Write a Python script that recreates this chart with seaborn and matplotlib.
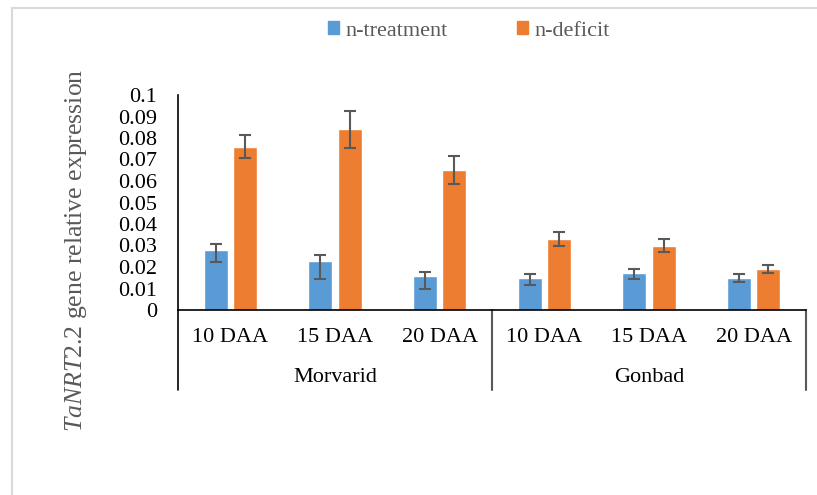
import matplotlib
matplotlib.use("Agg")
import matplotlib.pyplot as plt
import matplotlib.patches as mpatches
import matplotlib.transforms as mtransforms
import numpy as np
import pandas as pd
import seaborn as sns

# Relative expression of TaNRT2.2 at three sampling times in two cultivars
cultivars = ["Morvarid", "Gonbad"]
stages = ["10 DAA", "15 DAA", "20 DAA"]
series = ["n-treatment", "n-deficit"]

treatment = [0.028, 0.023, 0.016, 0.015, 0.017, 0.015]
treatment_err_low = [0.0056, 0.0086, 0.0064, 0.0034, 0.0027, 0.0019]
treatment_err_high = [0.0028, 0.0025, 0.0017, 0.0017, 0.0020, 0.0017]

deficit = [0.076, 0.084, 0.065, 0.033, 0.030, 0.019]
deficit_err = [0.0055, 0.0085, 0.0065, 0.0034, 0.0031, 0.0019]

y_ticks = [0, 0.01, 0.02, 0.03, 0.04, 0.05, 0.06, 0.07, 0.08, 0.09, 0.1]
y_tick_labels = ["0", "0.01", "0.02", "0.03", "0.04", "0.05", "0.06",
                 "0.07", "0.08", "0.09", "0.1"]

colors = ["#5B9BD5", "#ED7D31"]

sns.set_theme(style="white")
plt.rcParams["font.family"] = ["Liberation Serif", "DejaVu Serif"]
plt.rcParams["mathtext.fontset"] = "custom"
plt.rcParams["mathtext.rm"] = "Liberation Serif"
plt.rcParams["mathtext.it"] = "Liberation Serif:italic"

groups = [f"{c}|{s}" for c in cultivars for s in stages]
df = pd.DataFrame({
    "group": groups * 2,
    "series": [series[0]] * 6 + [series[1]] * 6,
    "value": treatment + deficit,
})

fig = plt.figure(figsize=(8.17, 4.95), dpi=100)
ax = fig.add_axes([178 / 817, 1 - 310 / 495, (806 - 178) / 817, 215 / 495])

sns.barplot(data=df, x="group", y="value", hue="series", order=groups,
            hue_order=series, palette=colors, width=0.556, gap=0.176,
            errorbar=None, saturation=1, legend=False, ax=ax)

# error bars at the dodged bar centres
idx = np.arange(len(groups))
off = 0.556 / 4
err_style = dict(fmt="none", ecolor="#595959", elinewidth=1.5, capsize=4.5,
                 capthick=1.5, zorder=5)
ax.errorbar(idx - off, treatment, yerr=[treatment_err_low, treatment_err_high],
            **err_style)
ax.errorbar(idx + off, deficit, yerr=deficit_err, **err_style)

ax.set_xlim(-0.5, len(groups) - 0.5)
ax.set_ylim(0, 0.1)
ax.set_yticks(y_ticks)
ax.set_yticklabels(y_tick_labels, fontsize=16, color="black")
ax.tick_params(axis="y", length=0, pad=15)
ax.set_xticks([])
ax.set_xlabel("")
ax.set_ylabel(r"$\it{TaNRT2.2}$ gene relative expression", fontsize=18.5,
              color="#595959")
ax.yaxis.set_label_coords(-0.142, 0.279)

for side in ["top", "right"]:
    ax.spines[side].set_visible(False)
for side in ["left", "bottom"]:
    ax.spines[side].set_color("black")
    ax.spines[side].set_linewidth(1.2)

# two-level category axis
trans = mtransforms.blended_transform_factory(ax.transData, ax.transAxes)
for i, g in enumerate(groups):
    ax.text(i, -27 / 215, g.split("|")[1], transform=trans, ha="center",
            va="center", fontsize=16, color="black")
for k, c in enumerate(cultivars):
    ax.text(k * 3 + 1, -67 / 215, c, transform=trans, ha="center",
            va="center", fontsize=16, color="black")
depth = -80 / 215
ax.plot([-0.5, -0.5], [0, depth], transform=trans, color="black", lw=1.2,
        clip_on=False)
ax.plot([2.5, 2.5], [0, depth], transform=trans, color="#595959", lw=1.5,
        clip_on=False)
ax.plot([5.5, 5.5], [0, depth], transform=trans, color="#595959", lw=1.5,
        clip_on=False)

# legend
handles = [mpatches.Patch(color=colors[0], label=series[0]),
           mpatches.Patch(color=colors[1], label=series[1])]
leg = fig.legend(handles=handles, loc="center", bbox_to_anchor=(469 / 817, 1 - 31 / 495),
                 ncol=2, frameon=False, fontsize=16, handlelength=0.5,
                 handleheight=0.5, handletextpad=0.3, columnspacing=3.1)
for t in leg.get_texts():
    t.set_color("#595959")

# chart frame
fig.patches.append(mpatches.Rectangle((12 / 817, -0.1), 1.2, 1.1 - 8 / 495,
                                      transform=fig.transFigure, fill=False,
                                      edgecolor="#D9D9D9", lw=1.5))

fig.savefig("out.png", dpi=100)
